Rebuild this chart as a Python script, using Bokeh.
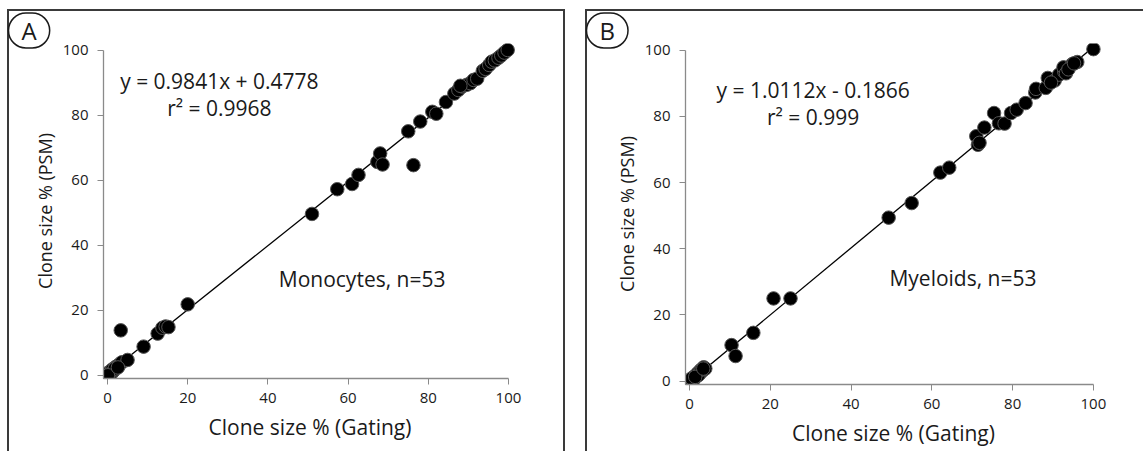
from bokeh.plotting import figure
from bokeh.models import Label, Spacer, Range1d
from bokeh.layouts import row, column
from bokeh.embed import file_html
from bokeh.resources import INLINE

# ---------------- data ----------------
gating_mono = [0.0, 0.3, 0.5, 0.8, 1.0, 1.2, 1.6, 2.0, 2.4, 2.8, 3.2, 3.6, 5.0, 3.3,
               9.0, 12.5, 13.7, 14.5, 15.2, 20.0, 51.0, 57.3, 61.0, 62.6, 67.3, 68.0,
               68.6, 76.3, 75.0, 78.0, 81.0, 82.0, 84.4, 86.5, 87.5, 88.5, 89.6, 90.5,
               91.3, 92.2, 93.6, 94.3, 95.2, 95.8, 96.6, 97.5, 98.2, 99.0, 99.8, 1.8,
               0.1, 2.6, 88.0]
psm_mono = [0.2, 0.9, 0.4, 1.0, 0.6, 1.8, 1.5, 2.5, 2.8, 3.1, 3.6, 4.0, 4.7, 13.8,
            8.8, 12.8, 14.6, 15.0, 14.8, 21.8, 49.6, 57.2, 58.8, 61.6, 65.6, 68.2,
            64.8, 64.6, 75.0, 78.0, 81.0, 80.4, 84.0, 86.6, 87.7, 88.8, 89.3, 89.8,
            90.8, 91.2, 93.6, 94.2, 95.4, 96.4, 96.8, 97.6, 98.3, 99.2, 100.0, 2.0,
            0.0, 2.4, 89.0]

gating_myelo = [0.0, 0.3, 0.6, 0.9, 1.2, 1.6, 2.0, 2.4, 2.7, 3.1, 3.5, 3.9, 10.4, 11.4,
                15.8, 20.8, 25.0, 49.3, 55.0, 62.1, 64.3, 71.0, 71.4, 71.8, 73.0, 75.4,
                76.6, 78.0, 79.6, 81.0, 83.2, 85.6, 85.8, 88.2, 88.7, 90.4, 91.5, 92.8,
                92.6, 93.2, 94.8, 96.0, 100.0, 0.2, 1.0, 2.2, 3.0, 89.5, 93.8, 95.2,
                0.5, 1.4, 3.4]
psm_myelo = [0.0, 0.6, 0.2, 1.2, 0.9, 1.8, 2.4, 2.2, 3.3, 3.0, 4.2, 3.8, 10.9, 7.6,
             14.6, 25.0, 25.0, 49.4, 53.8, 63.0, 64.5, 74.0, 71.4, 72.0, 76.6, 81.0,
             77.9, 77.8, 81.0, 82.0, 84.0, 87.2, 88.3, 88.6, 91.6, 90.8, 92.6, 93.4,
             94.8, 93.0, 95.8, 96.4, 100.3, 0.1, 0.4, 1.8, 3.5, 90.2, 94.2, 96.0,
             0.8, 1.3, 3.8]

fit_mono = (0.9841, 0.4778)
fit_myelo = (1.0112, -0.1866)
eq_mono = "y = 0.9841x + 0.4778"
r2_mono = "r\u00b2 = 0.9968"
eq_myelo = "y = 1.0112x - 0.1866"
r2_myelo = "r\u00b2 = 0.999"
name_mono = "Monocytes, n=53"
name_myelo = "Myeloids, n=53"
tick_values = [0, 20, 40, 60, 80, 100]
x_title = "Clone size % (Gating)"
y_title = "Clone size % (PSM)"
fit_x = [0, 100]

FONT = "Open Sans"
TXT = "#1a1a1a"
LO, HI = -1.0, 102.0
TOP = 9  # page y of the panel boxes


def panel(gx, gy, fit, eq, r2, name, letter, geom, eq_pos, name_pos, letter_left, shadow):
    canvas_left, W, H, x0, x100, y0, y100 = geom
    sx = (x100 - x0) / 100.0
    sy = (y0 - y100) / 100.0
    frame_left = x0 + LO * sx
    bl = int(round(frame_left - canvas_left))
    fw = int(round((HI - LO) * sx))
    br = W - bl - fw
    frame_top = y100 - (HI - 100) * sy
    bt = int(round(frame_top - TOP))
    fh = int(round((HI - LO) * sy))
    bb = H - bt - fh

    p = figure(frame_width=fw, frame_height=fh,
               min_border_left=bl, min_border_right=br,
               min_border_top=bt, min_border_bottom=bb,
               x_range=Range1d(LO, HI), y_range=Range1d(LO, HI),
               output_backend="svg", toolbar_location=None)
    p.border_fill_color = None
    p.background_fill_color = None
    p.outline_line_color = None
    p.grid.visible = False
    p.styles = {"box-shadow": shadow}

    for ax in (p.xaxis, p.yaxis):
        ax.bounds = (LO, 100)
        ax.ticker = tick_values
        ax.axis_line_color = "#8a8a8a"
        ax.axis_line_width = 1.3
        ax.major_tick_line_color = "#8a8a8a"
        ax.major_tick_out = 6
        ax.major_tick_in = 0
        ax.minor_tick_line_color = None
        ax.major_label_text_font = FONT
        ax.major_label_text_font_size = "15px"
        ax.major_label_text_color = TXT
        ax.axis_label_text_font = FONT
        ax.axis_label_text_font_style = "normal"
        ax.axis_label_text_color = TXT
    p.xaxis.axis_label = x_title
    p.yaxis.axis_label = y_title
    p.xaxis.axis_label_text_font_size = "21px"
    p.yaxis.axis_label_text_font_size = "18px"
    p.xaxis.major_label_standoff = 8
    p.yaxis.major_label_standoff = 9
    p.xaxis.axis_label_standoff = 7
    p.yaxis.axis_label_standoff = 3

    a, b = fit
    p.line(fit_x, [a * v + b for v in fit_x], line_color="black", line_width=1.3)
    p.scatter(gx, gy, size=13.5, fill_color="black", line_color="#555555",
              line_width=1, fill_alpha=1)

    ex, ey1, ey2 = eq_pos
    for t, yy in ((eq, ey1), (r2, ey2)):
        p.add_layout(Label(x=ex, y=yy, text=t, text_font=FONT, text_font_size="21px",
                           text_color=TXT, text_align="center", text_baseline="middle"))
    p.add_layout(Label(x=name_pos[0], y=name_pos[1], text=name, text_font=FONT,
                       text_font_size="21px", text_color=TXT,
                       text_align="center", text_baseline="middle"))

    # circled panel letter, drawn as the figure title in the top border
    p.title.text = letter
    p.title.align = "left"
    p.title.offset = int(round(letter_left - (frame_left)))
    p.title.standoff = -9
    p.title.text_font = FONT
    p.title.text_font_size = "24px"
    p.title.text_font_style = "normal"
    p.title.text_color = TXT
    p.title.border_line_color = "#1a1a1a"
    p.title.border_line_width = 1.5
    p.title.padding = (13, 1)
    p.title.border_radius = 18
    return p


pA = panel(gating_mono, psm_mono, fit_mono, eq_mono, r2_mono, name_mono, "A",
           (7, 558, 442, 107, 508, 373, 48),
           (27.9, 90.5, 82.2), (63.5, 29.5), 8,
           "inset 2px 2px 0 0 #3a3a3a, inset -2px 0 0 0 #3a3a3a")
pB = panel(gating_myelo, psm_myelo, fit_myelo, eq_myelo, r2_myelo, name_myelo, "B",
           (585, 558, 442, 689, 1093, 381, 50),
           (30.6, 88.0, 79.8), (67.7, 31.3), 586,
           "inset 2px 2px 0 0 #3a3a3a")

layout = column(Spacer(width=10, height=TOP),
                row(Spacer(width=7, height=10), pA, Spacer(width=20, height=10), pB))
open("out.html", "w").write(file_html(layout, INLINE))
